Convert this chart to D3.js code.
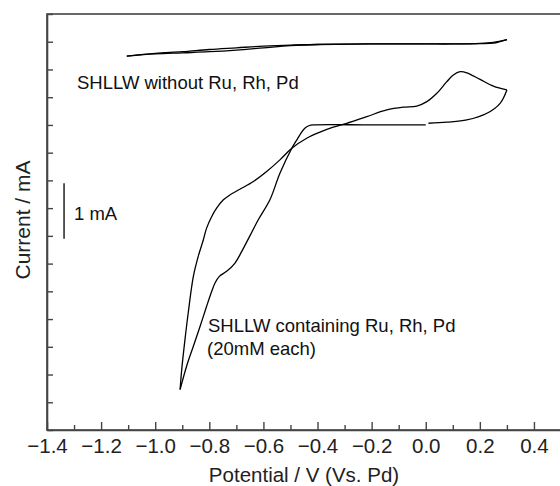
<!DOCTYPE html>
<html>
<head>
<meta charset="utf-8">
<script src="https://cdn.jsdelivr.net/npm/d3@7"></script>
<style>
  body { margin: 0; background: #fff; }
  svg { display: block; font-family: "Liberation Sans", Arial, Helvetica, sans-serif; }
  .axis path, .axis line { stroke: #444; }
  .axis text { fill: #222; }
</style>
</head>
<body>
<div id="chart"></div>
<script>

// x axis: potential (V vs. Pd)
const potentialTicks = [-1.4, -1.2, -1.0, -0.8, -0.6, -0.4, -0.2, 0.0, 0.2, 0.4];
const potentialMinorTicks = [-1.3, -1.1, -0.9, -0.7, -0.5, -0.3, -0.1, 0.1, 0.3];

// y axis: current (mA), unlabelled ticks every 0.5 mA
const currentTicks = [-5.5, -5.0, -4.5, -4.0, -3.5, -3.0, -2.5, -2.0, -1.5, -1.0, -0.5, 0.0, 0.5, 1.0, 1.5, 2.0];

// SHLLW without Ru, Rh, Pd : [potential, current]
const blankToNegative = [[0.00, 1.46], [-0.20, 1.46], [-0.40, 1.45], [-0.50, 1.44], [-0.60, 1.42],
    [-0.70, 1.39], [-0.80, 1.36], [-0.90, 1.32], [-1.00, 1.29], [-1.105, 1.24]];
const blankToPositive = [[-1.105, 1.24], [-1.00, 1.28], [-0.90, 1.30], [-0.80, 1.32], [-0.70, 1.35],
    [-0.60, 1.39], [-0.50, 1.43], [-0.40, 1.45], [-0.20, 1.46], [0.00, 1.46], [0.10, 1.46],
    [0.20, 1.47], [0.25, 1.49], [0.30, 1.54]];
const blankBack = [[0.30, 1.54], [0.25, 1.475], [0.20, 1.465], [0.10, 1.46], [0.00, 1.46]];

// SHLLW containing Ru, Rh, Pd (20mM each) : [potential, current]
const metalToNegative = [[0.00, 0.00], [-0.20, 0.00], [-0.415, 0.00], [-0.432, -0.015], [-0.447, -0.06],
    [-0.460, -0.14], [-0.474, -0.25], [-0.495, -0.42], [-0.539, -0.87], [-0.576, -1.35], [-0.619, -1.71],
    [-0.680, -2.28], [-0.705, -2.49], [-0.736, -2.64], [-0.763, -2.73], [-0.779, -2.85],
    [-0.791, -3.00], [-0.810, -3.27], [-0.834, -3.63], [-0.859, -3.99], [-0.884, -4.35],
    [-0.908, -4.77]];
const metalToPositive = [[-0.908, -4.77], [-0.902, -4.41], [-0.890, -3.87], [-0.878, -3.39],
    [-0.859, -2.73], [-0.841, -2.37], [-0.822, -2.07], [-0.810, -1.86], [-0.791, -1.65],
    [-0.773, -1.50], [-0.748, -1.35], [-0.723, -1.26], [-0.687, -1.16], [-0.637, -1.02],
    [-0.588, -0.84], [-0.539, -0.63], [-0.495, -0.42], [-0.440, -0.24], [-0.391, -0.13],
    [-0.342, -0.04], [-0.292, 0.03], [-0.218, 0.15], [-0.144, 0.27], [-0.083, 0.32],
    [-0.033, 0.34], [0.004, 0.42], [0.041, 0.57], [0.078, 0.78], [0.102, 0.90],
    [0.127, 0.96], [0.152, 0.94], [0.201, 0.82], [0.250, 0.70], [0.300, 0.63]];
const metalBack = [[0.300, 0.63], [0.275, 0.39], [0.226, 0.21], [0.152, 0.09], [0.078, 0.05], [0.010, 0.03]];

// scale bar (1 mA)
const scaleBar = {potential: -1.337, from: -1.05, to: -2.05, label: "1 mA"};

const width = 560, height = 486;
const margin = {top: 14, right: -1, bottom: 56, left: 47};

let svg = d3.select("#chart").append("svg")
    .attr("width", width)
    .attr("height", height);

let x = d3.scaleLinear()
    .domain([-1.4, 0.5])
    .range([margin.left, width - margin.right]);

let y = d3.scaleLinear()
    .domain([-5.5, 2.0])
    .range([height - margin.bottom, margin.top]);

//frame (right side falls just outside the picture)
svg.append("rect")
    .attr("x", x(-1.4))
    .attr("y", y(2.0))
    .attr("width", x(0.5) - x(-1.4))
    .attr("height", y(-5.5) - y(2.0))
    .attr("fill", "none")
    .attr("stroke", "#444")
    .attr("stroke-width", 1.6);

//minor x ticks, pointing inward
svg.append("g")
    .attr("class", "axis")
    .attr("transform", "translate(0," + y(-5.5) + ")")
    .call(d3.axisBottom(x).tickValues(potentialMinorTicks).tickSizeInner(-5).tickSizeOuter(0).tickFormat(""))
    .call(g => g.select(".domain").remove())
    .selectAll("line").attr("stroke-width", 1.4);

//major x ticks with labels
let fmt = d => d3.format(".1f")(d).replace("-", "\u2212");
svg.append("g")
    .attr("class", "axis")
    .attr("transform", "translate(0," + y(-5.5) + ")")
    .call(d3.axisBottom(x).tickValues(potentialTicks).tickSizeInner(-8).tickSizeOuter(0).tickPadding(8).tickFormat(fmt))
    .call(g => g.select(".domain").attr("stroke-width", 1.6))
    .call(g => g.selectAll("line").attr("stroke-width", 1.4))
    .call(g => g.selectAll("text").attr("font-size", 20.5).attr("font-family", "Liberation Sans, Arial, sans-serif"));

//y ticks, no labels
svg.append("g")
    .attr("class", "axis")
    .attr("transform", "translate(" + x(-1.4) + ",0)")
    .call(d3.axisRight(y).tickValues(currentTicks).tickSizeInner(6).tickSizeOuter(0).tickFormat(""))
    .call(g => g.select(".domain").attr("stroke-width", 1.6))
    .call(g => g.selectAll("line").attr("stroke-width", 1.4));

//axis titles
svg.append("text")
    .attr("x", (x(-1.4) + x(0.5)) / 2)
    .attr("y", 482)
    .attr("text-anchor", "middle")
    .attr("font-size", 20.5)
    .attr("fill", "#222")
    .text("Potential / V (Vs. Pd)");

svg.append("text")
    .attr("transform", "translate(29.5,220) rotate(-90)")
    .attr("text-anchor", "middle")
    .attr("font-size", 21)
    .attr("fill", "#222")
    .text("Current / mA");

//voltammograms, one path per sweep so the vertices stay sharp
let line = d3.line()
    .x(d => x(d[0]))
    .y(d => y(d[1]))
    .curve(d3.curveCatmullRom.alpha(0.5));

let sweeps = [blankToNegative, blankToPositive, blankBack, metalToNegative, metalToPositive, metalBack];
svg.selectAll(".sweep")
    .data(sweeps)
    .enter().append("path")
    .attr("class", "sweep")
    .attr("d", line)
    .attr("fill", "none")
    .attr("stroke", "#000")
    .attr("stroke-width", 1.3);

//scale bar
svg.append("line")
    .attr("x1", x(scaleBar.potential))
    .attr("x2", x(scaleBar.potential))
    .attr("y1", y(scaleBar.from))
    .attr("y2", y(scaleBar.to))
    .attr("stroke", "#000")
    .attr("stroke-width", 1.3);

svg.append("text")
    .attr("x", x(scaleBar.potential) + 10)
    .attr("y", 220)
    .attr("font-size", 18.5)
    .attr("fill", "#111")
    .text(scaleBar.label);

//annotations
svg.append("text")
    .attr("x", 77)
    .attr("y", 89)
    .attr("font-size", 18.5)
    .attr("fill", "#111")
    .text("SHLLW without Ru, Rh, Pd");

let note = svg.append("text")
    .attr("x", 208)
    .attr("y", 332)
    .attr("font-size", 18.5)
    .attr("fill", "#111");
note.append("tspan").attr("x", 208).text("SHLLW containing Ru, Rh, Pd");
note.append("tspan").attr("x", 207).attr("dy", 23).text("(20mM each)");

</script>
</body>
</html>
